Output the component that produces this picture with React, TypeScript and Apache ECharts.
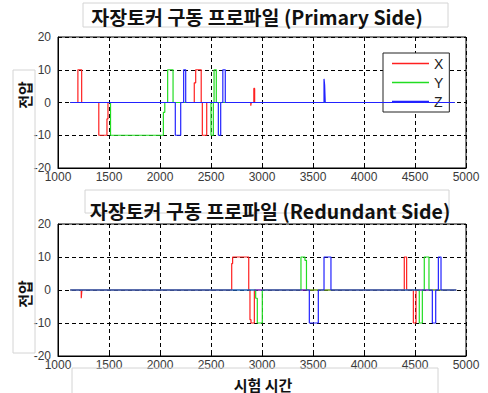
import React, { useEffect, useRef } from "react";
import * as echarts from "echarts";

// Step breakpoints [time, value]; value holds until the next point.
const primaryX: number[][] = [
  [1120, 0], [1195, 10], [1232, 0], [1400, -10], [1480, -5], [1490, 0],
  [2336, 6], [2350, 10], [2404, 0], [2415, -10], [2458, 0],
  [2890, -1], [2895, 0], [2920, 4.3], [2928, 0], [4890, 0],
];
const primaryY: number[][] = [
  [1120, 0], [1515, -10], [2033, -3], [2047, 0], [2075, 10], [2128, 0],
  [2500, -10], [2523, 0], [2530, 10], [2552, 0], [4890, 0],
];
const primaryZ: number[][] = [
  [1120, 0], [2150, -10], [2203, 0], [2232, 10], [2252, 0],
  [2572, -10], [2595, 0], [2616, 10], [2640, 0],
  [3608, 7.2], [3614, 5.3], [3620, 0], [4890, 0],
];
const redundantX: number[][] = [
  [1120, 0], [1228, -2.5], [1234, 0], [2703, 8], [2712, 10], [2870, 0],
  [2882, -9], [2892, -10], [2925, 0], [4395, 10], [4418, 0],
  [4484, -10], [4510, 0], [4905, 0],
];
const redundantY: number[][] = [
  [1120, 0], [2938, -2.5], [2954, -10], [3003, 0], [3382, 10], [3421, 9],
  [3436, 0], [4542, -10], [4572, 0], [4591, 10], [4637, 0], [4905, 0],
];
const redundantZ: number[][] = [
  [1120, 0], [3464, -10], [3552, 0], [3608, 10], [3676, 0],
  [4670, -10], [4703, 0], [4729, 10], [4755, 0], [4905, 0],
];

const seriesNames = ["X", "Y", "Z"];
const seriesColors = ["#ff2020", "#22dd22", "#2222ff"];
const xTicks = { min: 1000, max: 5000, interval: 500 };
const yTicks = { min: -20, max: 20, interval: 10 };
const titles = ["자장토커 구동 프로파일 (Primary Side)", "자장토커 구동 프로파일 (Redundant Side)"];
const yTitle = "전압";
const xTitle = "시험 시간";

const FONT = "'Liberation Sans', Arial, sans-serif";
const CJK = "'Noto Sans CJK KR', sans-serif";

export default function App() {
  const ref = useRef<HTMLDivElement>(null);
  useEffect(() => {
    if (!ref.current) return;
    const chart = echarts.init(ref.current, undefined, { renderer: "svg" });
    const grids = [
      { left: 58, top: 37, width: 408, height: 131 },
      { left: 58, top: 224, width: 408, height: 132 },
    ];
    const makeX = (i: number) => ({
      type: "value",
      gridIndex: i,
      min: xTicks.min,
      max: xTicks.max,
      interval: xTicks.interval,
      axisLine: { show: true, onZero: false, lineStyle: { color: "#000", width: 1 } },
      axisTick: { show: true, inside: true, length: 3, lineStyle: { color: "#000" } },
      axisLabel: { color: "#3a3a3a", fontSize: 12, fontFamily: FONT, margin: 3, formatter: (v: number) => String(v) },
      splitLine: { show: true, lineStyle: { color: "#000", type: [4, 3], width: 1 } },
    });
    const makeY = (i: number) => ({
      type: "value",
      gridIndex: i,
      min: yTicks.min,
      max: yTicks.max,
      interval: yTicks.interval,
      axisLine: { show: true, onZero: false, lineStyle: { color: "#000", width: 1 } },
      axisTick: { show: true, inside: true, length: 3, lineStyle: { color: "#000" } },
      axisLabel: { color: "#3a3a3a", fontSize: 12, fontFamily: FONT, margin: 7, formatter: (v: number) => String(v) },
      splitLine: { show: true, lineStyle: { color: "#000", type: [4, 3], width: 1 } },
    });
    const data = [[primaryX, primaryY, primaryZ], [redundantX, redundantY, redundantZ]];
    const series: any[] = [];
    data.forEach((group, gi) => {
      group.forEach((d, si) => {
        series.push({
          type: "line",
          name: seriesNames[si],
          xAxisIndex: gi,
          yAxisIndex: gi,
          data: d,
          step: "end",
          showSymbol: false,
          symbol: "none",
          lineStyle: { color: seriesColors[si], width: 1.2 },
          itemStyle: { color: seriesColors[si] },
          z: 3 + si,
        });
      });
    });
    const box = (x: number, y: number, w: number, h: number) => ({
      type: "rect",
      shape: { x, y, width: w, height: h },
      style: { fill: "none", stroke: "#d4d4d4", lineWidth: 1 },
      z: 1,
      silent: true,
    });
    chart.setOption({
      animation: false,
      backgroundColor: "#fff",
      grid: grids.map((g) => ({ ...g, show: true, borderColor: "#000", borderWidth: 1, backgroundColor: "#fff" })),
      xAxis: [makeX(0), makeX(1)],
      yAxis: [makeY(0), makeY(1)],
      legend: {
        data: seriesNames,
        orient: "vertical",
        left: 383,
        top: 53,
        icon: "rect",
        itemWidth: 37,
        itemHeight: 1.5,
        itemGap: 0,
        padding: [1, 6, 1, 9],
        backgroundColor: "#fff",
        borderColor: "#222",
        borderWidth: 1,
        borderRadius: 0,
        selectedMode: false,
        textStyle: { color: "#222", fontSize: 14, fontFamily: FONT, lineHeight: 19 },
      },
      series,
      graphic: [
        box(83, 3, 365, 24),
        box(85, 190, 364, 23),
        box(13, 70, 22, 283),
        box(72, 368, 366, 30),
        {
          type: "text", x: 257, y: 16, z: 10,
          style: { text: titles[0], fontSize: 19.5, fontWeight: "bold", fontFamily: CJK, fill: "#111", textAlign: "center", textVerticalAlign: "middle" },
        },
        {
          type: "text", x: 270, y: 210, z: 10,
          style: { text: titles[1], fontSize: 19.5, fontWeight: "bold", fontFamily: CJK, fill: "#111", textAlign: "center", textVerticalAlign: "middle" },
        },
        {
          type: "text", x: 24, y: 95, rotation: Math.PI / 2, z: 10,
          style: { text: yTitle, fontSize: 15, fontWeight: "bold", fontFamily: CJK, fill: "#111", textAlign: "center", textVerticalAlign: "middle" },
        },
        {
          type: "text", x: 24, y: 294, rotation: Math.PI / 2, z: 10,
          style: { text: yTitle, fontSize: 15, fontWeight: "bold", fontFamily: CJK, fill: "#111", textAlign: "center", textVerticalAlign: "middle" },
        },
        {
          type: "text", x: 263, y: 384, z: 10,
          style: { text: xTitle, fontSize: 15, fontWeight: "bold", fontFamily: CJK, fill: "#111", textAlign: "center", textVerticalAlign: "middle" },
        },
      ],
    });
    return () => chart.dispose();
  }, []);
  return (
    <div
      ref={ref}
      style={{ position: "fixed", left: 0, top: 0, width: 488, height: 393 }}
    />
  );
}
